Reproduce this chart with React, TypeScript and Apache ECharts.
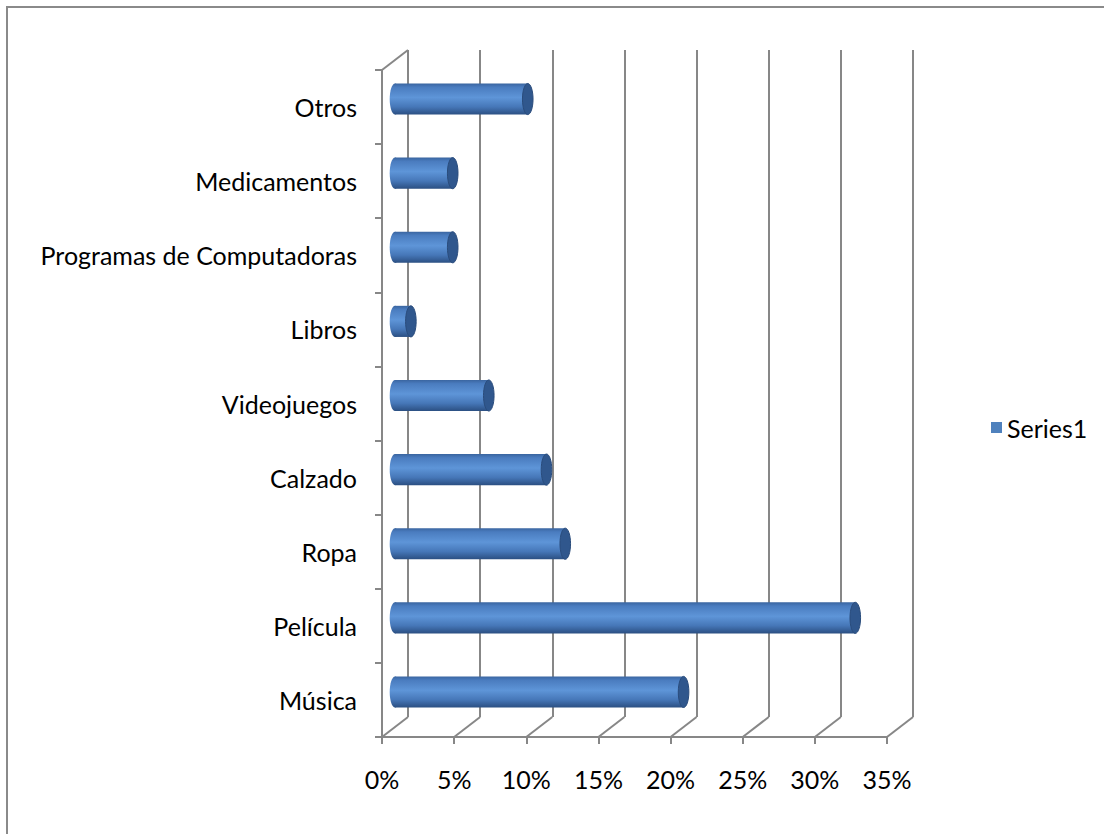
import React, { useEffect, useRef } from "react";
import * as echarts from "echarts";

const categories = [
  "Música",
  "Película",
  "Ropa",
  "Calzado",
  "Videojuegos",
  "Libros",
  "Programas de Computadoras",
  "Medicamentos",
  "Otros",
];
const values = [0.2, 0.319, 0.118, 0.105, 0.065, 0.011, 0.04, 0.04, 0.092];
const xTicks = [0, 0.05, 0.1, 0.15, 0.2, 0.25, 0.3, 0.35];
const seriesName = "Series1";

const FONT = "Lato, 'Open Sans', sans-serif";
const FS = 25;
const GRID_COLOR = "#878787";
const DX = 26;
const DY = 20;

export default function App() {
  const ref = useRef<HTMLDivElement>(null);
  useEffect(() => {
    if (!ref.current) return;
    const chart = echarts.init(ref.current, null, { renderer: "svg" });
    const fmt = (v: number) => Math.round(v * 100) + "%";
    const option: any = {
      animation: false,
      backgroundColor: "#fff",
      textStyle: { fontFamily: FONT },
      graphic: [
        {
          type: "rect",
          shape: { x: 7, y: 7, width: 1300, height: 1000 },
          style: { fill: "none", stroke: "#8a8a8a", lineWidth: 2 },
          silent: true,
        },
      ],
      legend: {
        data: [{ name: seriesName, icon: "rect" }],
        left: 986,
        top: 410,
        itemWidth: 11,
        itemHeight: 11,
        itemGap: 6,
        textStyle: { fontSize: FS, color: "#000", fontFamily: FONT },
      },
      grid: [
        { left: 382, top: 70, width: 505, height: 667 },
        { left: 382 + DX, top: 70 - DY, width: 505, height: 667 },
        { left: 382 + DX / 2, top: 72 - DY / 2, width: 505, height: 667 },
      ],
      xAxis: [
        {
          gridIndex: 0,
          type: "value",
          min: 0,
          max: 0.35,
          interval: 0.05,
          axisLine: { show: true, lineStyle: { color: GRID_COLOR, width: 2 } },
          axisTick: { show: true, length: 7, lineStyle: { color: GRID_COLOR, width: 2 } },
          splitLine: { show: false },
          axisLabel: {
            formatter: fmt,
            fontSize: FS,
            color: "#000",
            margin: 29,
            fontFamily: FONT,
          },
        },
        {
          gridIndex: 1,
          type: "value",
          min: 0,
          max: 0.35,
          interval: 0.05,
          axisLine: { show: false },
          axisTick: { show: false },
          axisLabel: { show: false },
          splitLine: { show: true, lineStyle: { color: GRID_COLOR, width: 2 } },
        },
        {
          gridIndex: 2,
          type: "value",
          min: 0,
          max: 0.35,
          interval: 0.05,
          show: false,
        },
      ],
      yAxis: [
        {
          gridIndex: 0,
          type: "category",
          data: categories,
          axisLine: { show: true, lineStyle: { color: GRID_COLOR, width: 2 } },
          axisTick: { show: true, length: 7, lineStyle: { color: GRID_COLOR, width: 2 } },
          axisLabel: { fontSize: FS, color: "#000", margin: 25, fontFamily: FONT },
          splitLine: { show: false },
        },
        {
          gridIndex: 1,
          type: "category",
          data: categories,
          show: false,
        },
        {
          gridIndex: 2,
          type: "category",
          data: categories,
          show: false,
        },
      ],
      series: [
        {
          type: "custom",
          xAxisIndex: 0,
          yAxisIndex: 0,
          silent: true,
          data: xTicks.map((v) => [v, 0]),
          renderItem: (params: any, api: any) => {
            const cs = params.coordSys;
            const p = api.coord([api.value(0), 0]);
            const bottom = cs.y + cs.height;
            const children: any[] = [
              {
                type: "line",
                shape: { x1: p[0], y1: bottom, x2: p[0] + DX, y2: bottom - DY },
                style: { stroke: GRID_COLOR, lineWidth: 2 },
              },
            ];
            if (api.value(0) === 0) {
              children.push({
                type: "line",
                shape: { x1: p[0], y1: cs.y, x2: p[0] + DX, y2: cs.y - DY },
                style: { stroke: GRID_COLOR, lineWidth: 2 },
              });
            }
            return { type: "group", children };
          },
          z: 1,
        },
        {
          name: seriesName,
          type: "custom",
          xAxisIndex: 2,
          yAxisIndex: 2,
          itemStyle: { color: "#4f81bd" },
          data: values.map((v, i) => [v, i]),
          renderItem: (params: any, api: any) => {
            const idx = api.value(1);
            const s = api.coord([0, idx]);
            const e = api.coord([api.value(0), idx]);
            const h = api.size([0, 1])[1] * 0.42;
            const rx = h * 0.17;
            const grad = new echarts.graphic.LinearGradient(0, 0, 0, 1, [
              { offset: 0, color: "#3a65a0" },
              { offset: 0.12, color: "#4a7cbf" },
              { offset: 0.45, color: "#5e95d8" },
              { offset: 0.75, color: "#4677b8" },
              { offset: 1, color: "#2b4f82" },
            ]);
            return {
              type: "group",
              children: [
                {
                  type: "ellipse",
                  shape: { cx: s[0], cy: s[1], rx, ry: h / 2 },
                  style: { fill: grad },
                },
                {
                  type: "rect",
                  shape: { x: s[0], y: s[1] - h / 2, width: e[0] - s[0], height: h },
                  style: { fill: grad },
                },
                {
                  type: "ellipse",
                  shape: { cx: e[0], cy: e[1], rx, ry: h / 2 },
                  style: { fill: "#30578d", stroke: "#2a4c7c", lineWidth: 1 },
                },
              ],
            };
          },
          z: 3,
        },
      ],
    };
    chart.setOption(option);
    return () => chart.dispose();
  }, []);
  return (
    <div
      ref={ref}
      style={{ position: "fixed", left: 0, top: 0, width: 1104, height: 834 }}
    />
  );
}
